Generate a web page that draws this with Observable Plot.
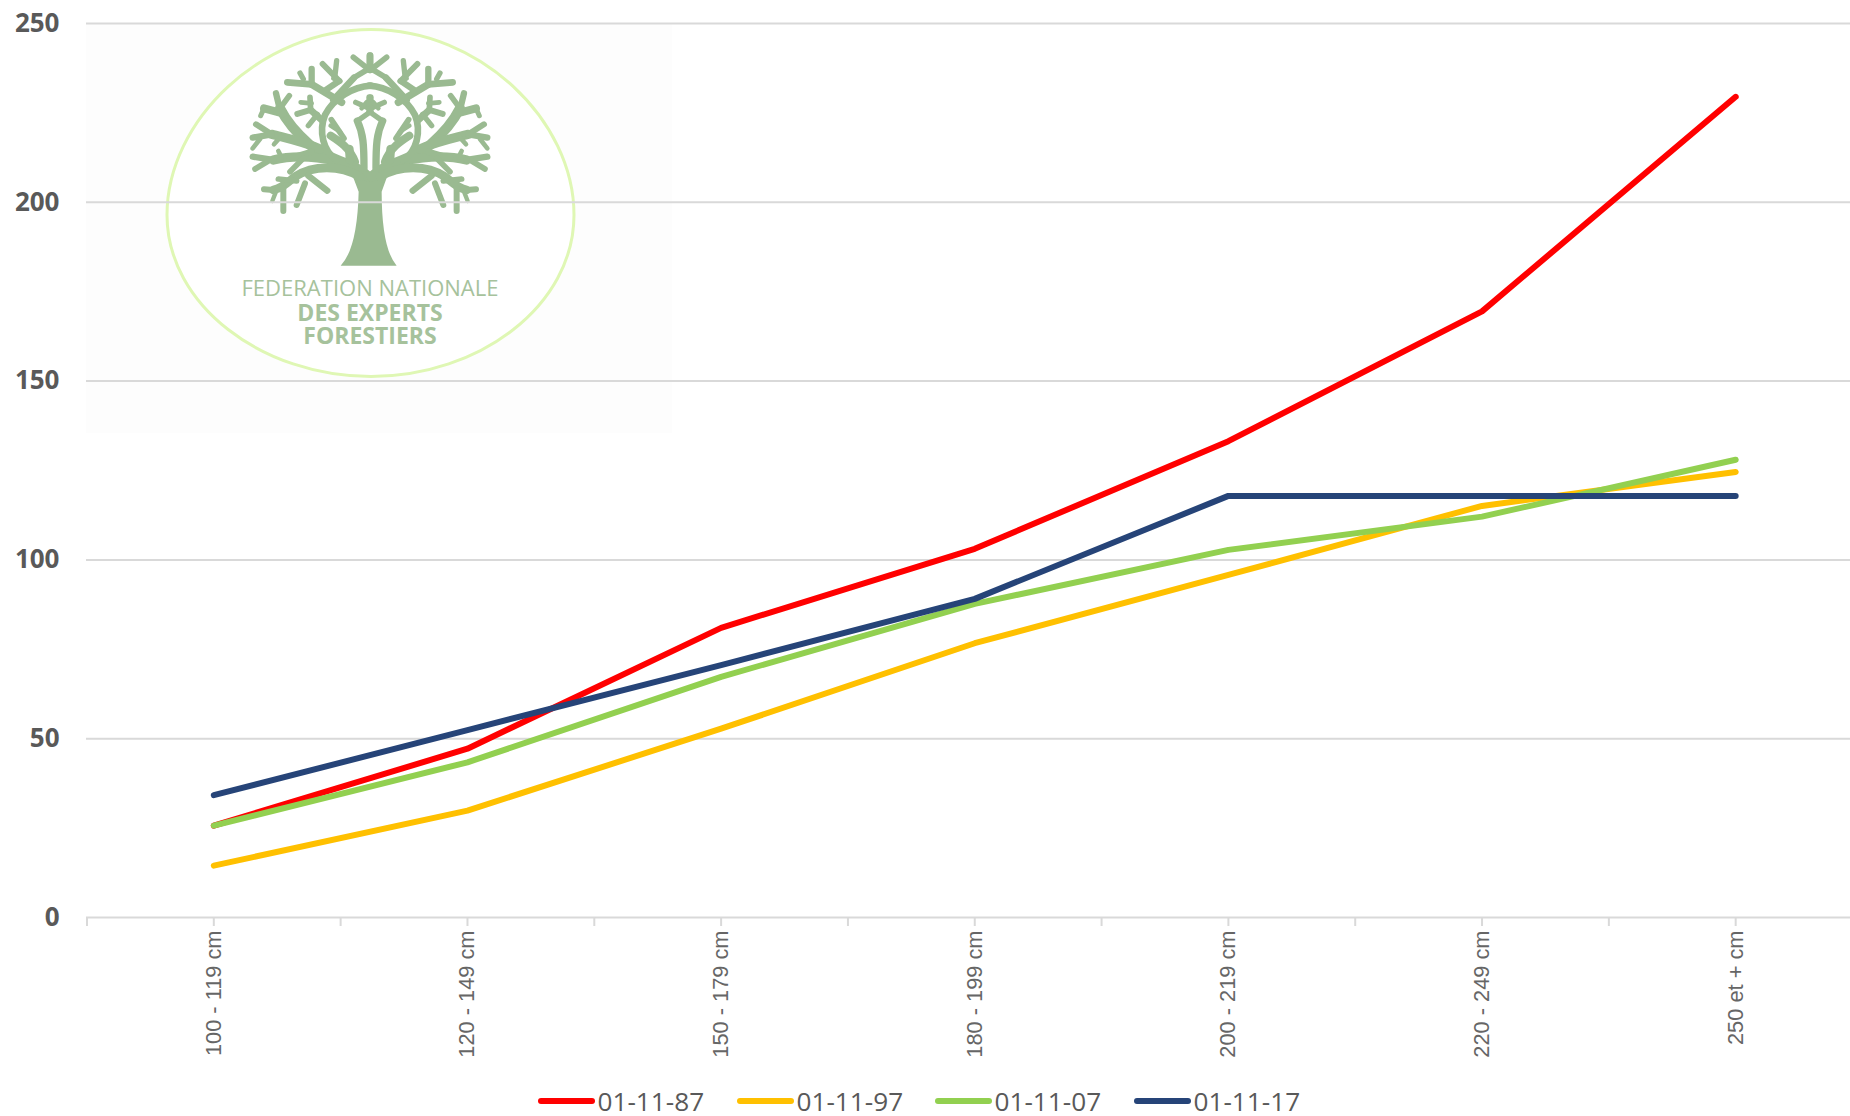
<!DOCTYPE html>
<html><head><meta charset="utf-8">
<script src="https://cdn.jsdelivr.net/npm/d3@7"></script>
<script src="https://cdn.jsdelivr.net/npm/@observablehq/plot@0.6"></script>
<style>
html,body{margin:0;padding:0;background:#fff;overflow:hidden}
#chart svg{display:block;overflow:hidden}
#legend{position:relative;height:56px;font-family:"Open Sans",sans-serif;font-size:26.2px;color:#595959}
#legend .sw{position:absolute;top:38px;height:6px;width:57px;border-radius:3px}
#legend .tx{position:absolute;top:23px;line-height:36px;white-space:nowrap}
</style></head><body>
<div id="chart"></div><div id="legend"></div>
<script>
const categories = ["100 - 119 cm","120 - 149 cm","150 - 179 cm","180 - 199 cm","200 - 219 cm","220 - 249 cm","250 et + cm"];
const series87 = [25.7,47.2,81,103.1,133.2,169.5,229.5];
const series97 = [14.5,29.9,52.8,76.7,95.8,115.1,124.6];
const series07 = [25.7,43.4,67.3,87.7,102.8,112.1,128];
const series17 = [34.2,52.4,70.6,89.1,117.9,117.9,117.9];
const seriesNames = ["01-11-87","01-11-97","01-11-07","01-11-17"];
const seriesColors = ["#ff0000","#ffc000","#92d050","#264478"];
const yTicks = [0,50,100,150,200,250];

const allSeries = [series87,series97,series07,series17];
const rows = allSeries.flatMap((vals,s)=>vals.map((v,i)=>({pos:i+0.5,v,name:seriesNames[s]})));
const edgeTicks = d3.range(0,15).map(i=>i/2);
const centres = categories.map((_,i)=>i+0.5);

// Decorative logo in the background of the plot
const treeStrokes = [
 [30,"M385,395 C340,350 260,345 210,300 C170,265 140,230 120,190"],
 [19,"M120,195 L108,145"],[17,"M120,190 L148,152"],[24,"M128,205 L72,190"],[15,"M72,190 L62,212"],
 [28,"M240,312 C190,290 140,280 95,268"],[18,"M95,268 L48,238"],[19,"M95,268 L38,278"],[14,"M60,282 L38,310"],[14,"M125,272 L102,298"],
 [28,"M345,368 C290,340 180,325 100,345"],[19,"M100,345 L38,335"],[17,"M85,348 L45,372"],[14,"M125,338 L115,318"],[19,"M150,340 L215,320"],[17,"M190,340 L150,380"],
 [26,"M360,395 C300,360 220,360 165,395 C140,415 125,430 100,435"],[18,"M100,435 L72,433"],[18,"M130,430 L130,498"],[17,"M170,408 L115,402"],[19,"M205,392 L262,437"],[18,"M195,415 L170,480"],[13,"M108,440 L97,468"],
 [20,"M290,345 C250,320 235,260 255,210 C280,160 340,125 392,122"],
 [22,"M305,172 L215,118"],[20,"M215,118 L142,112"],[19,"M215,118 L215,72"],[16,"M190,102 L180,84"],[19,"M258,135 L298,108"],[18,"M298,108 L248,57"],[16,"M285,92 L290,47"],[14,"M298,108 L280,100"],
 [20,"M280,165 L342,98"],[17,"M342,98 L385,72"],[17,"M385,72 L340,37"],[20,"M390,75 L390,32"],
 [21,"M245,225 L212,195"],[18,"M212,195 L172,207"],[17,"M212,195 L210,157"],[14,"M215,175 L182,172"],[16,"M232,208 L205,242"],
 [24,"M345,350 C330,310 300,290 272,272"],[17,"M312,280 L274,224"],[14,"M300,260 L272,242"],[26,"M330,345 L328,312"],
 [22,"M372,370 C372,300 370,265 352,228"],[16,"M352,228 L392,200"],[18,"M392,200 L392,157"],[16,"M392,192 L347,172"],[14,"M365,190 L380,172"]
];
function logo(){
  const g = d3.create("svg:g");
  g.append("rect").attr("x",86).attr("y",24).attr("width",586).attr("height",409).attr("fill","#fdfdfd");
  g.append("path").attr("d","M371,29.5 C480,29.5 574,120 574,215 C574,305 480,376.5 371,376.5 C262,376.5 167,305 167,215 C167,120 262,29.5 371,29.5 Z")
    .attr("fill","#ffffff").attr("stroke","#dff7b4").attr("stroke-width",3);
  const t = g.append("g").attr("transform","translate(240,45) scale(0.3333)")
    .attr("fill","none").attr("stroke","#9aba91").attr("stroke-linecap","round").attr("stroke-linejoin","round");
  t.append("path").attr("d","M302,662 Q352,610 356,440 L335,385 L445,385 L425,440 Q425,610 470,662 Z").attr("fill","#9aba91").attr("stroke","none");
  [null,"translate(780,0) scale(-1,1)"].forEach(tr=>{
    const side = t.append("g"); if(tr) side.attr("transform",tr);
    treeStrokes.forEach(([w,d])=>side.append("path").attr("d",d).attr("stroke-width",w));
  });
  const lab=[["FEDERATION NATIONALE",296,400,22],["DES EXPERTS",321,700,23],["FORESTIERS",344,700,23]];
  lab.forEach(([s,y,wt,fs])=>g.append("text").text(s).attr("x",370).attr("y",y).attr("text-anchor","middle")
    .attr("font-family","'Open Sans',sans-serif").attr("font-weight",wt).attr("font-size",fs).attr("fill","#a6c29c"));
  return g.node();
}

const chart = Plot.plot({
  width:1850, height:1060, marginLeft:86, marginRight:0, marginTop:23, marginBottom:143,
  style:{background:"#fff",fontFamily:"'Open Sans',sans-serif"},
  x:{type:"linear",domain:[0,7],range:[86.5,1862]},
  y:{domain:[0,250],range:[917,23]},
  color:{domain:seriesNames,range:seriesColors},
  marks:[
    logo,
    Plot.gridY(yTicks,{stroke:"#d9d9d9",strokeWidth:2,strokeOpacity:1}),
    Plot.axisX({ticks:edgeTicks,tickFormat:()=>"",tickSize:9,stroke:"#d9d9d9",strokeWidth:2,strokeOpacity:1,label:null}),
    Plot.axisX({ticks:centres,tickSize:0,tickPadding:13,tickRotate:-90,label:null,
      tickFormat:d=>categories[d-0.5],fill:"#666666",fontSize:21.8,fontFamily:"'Liberation Sans',sans-serif"}),
    Plot.axisY({ticks:yTicks,tickSize:0,tickPadding:27,label:null,fill:"#595959",fontSize:26,fontWeight:700}),
    Plot.line(rows,{x:"pos",y:"v",stroke:"name",z:"name",strokeWidth:6,strokeLinecap:"round",strokeLinejoin:"round"})
  ]
});
document.getElementById("chart").append(chart);

const legendX=[538,737,935,1134];
const legend=document.getElementById("legend");
seriesNames.forEach((n,i)=>{
  const s=document.createElement("div");s.className="sw";s.style.left=legendX[i]+"px";s.style.background=seriesColors[i];legend.append(s);
  const t=document.createElement("div");t.className="tx";t.style.left=(legendX[i]+59.5)+"px";t.textContent=n;legend.append(t);
});
</script></body></html>
